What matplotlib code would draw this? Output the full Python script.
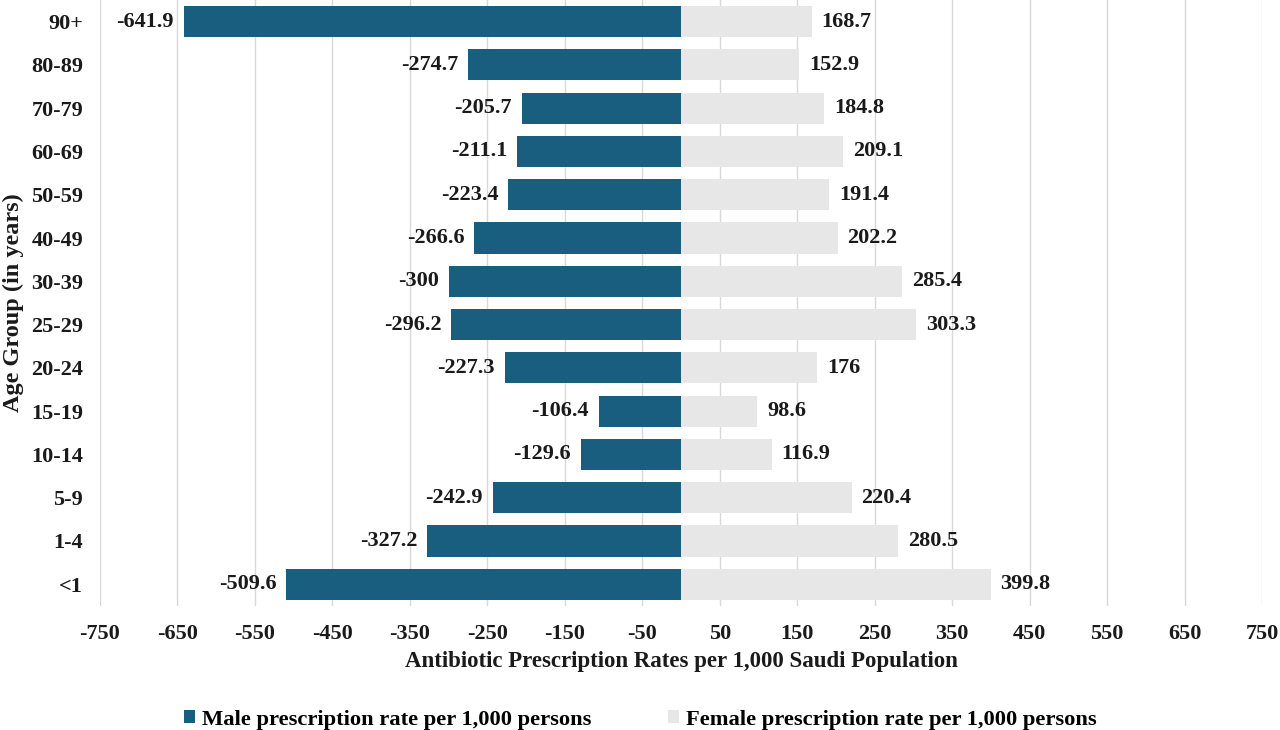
"""Antibiotic prescription rates by age group and sex (pyramid chart)."""

import matplotlib

matplotlib.use("Agg")
import matplotlib.pyplot as plt  # noqa: E402
import numpy as np  # noqa: E402


AGE_GROUPS = ["<1", "1-4", "5-9", "10-14", "15-19", "20-24", "25-29",
              "30-39", "40-49", "50-59", "60-69", "70-79", "80-89", "90+"]
MALE_RATES = [-509.6, -327.2, -242.9, -129.6, -106.4, -227.3, -296.2,
              -300.0, -266.6, -223.4, -211.1, -205.7, -274.7, -641.9]
FEMALE_RATES = [399.8, 280.5, 220.4, 116.9, 98.6, 176.0, 303.3,
                285.4, 202.2, 191.4, 209.1, 184.8, 152.9, 168.7]
X_TICKS = list(range(-750, 751, 100))

MALE_COLOR = "#1a5e7f"
FEMALE_COLOR = "#e7e7e7"
GRID_COLOR = "#d9d9d9"
TEXT_COLOR = "#1a1a1a"

plt.rcParams["font.family"] = ["Liberation Serif", "DejaVu Serif"]
plt.rcParams["font.weight"] = "bold"

figure = plt.figure(figsize=(12.8, 7.3), dpi=100)
axis = figure.add_axes([0.078, 0.170, 0.908, 0.830])

y = np.arange(len(AGE_GROUPS))
male_bars = axis.barh(y, MALE_RATES, height=0.72, color=MALE_COLOR,
                      label="Male prescription rate per 1,000 persons", zorder=2)
female_bars = axis.barh(y, FEMALE_RATES, height=0.72, color=FEMALE_COLOR,
                        label="Female prescription rate per 1,000 persons", zorder=2)

for bars, values in ((male_bars, MALE_RATES), (female_bars, FEMALE_RATES)):
    labels = axis.bar_label(bars, labels=[f"{v:g}" for v in values], padding=7,
                            fontsize=16, fontweight="bold", color=TEXT_COLOR)
    for label in labels:
        label.set_verticalalignment("center")

axis.set_xlim(-750, 750)
axis.set_ylim(-0.5, len(AGE_GROUPS) - 0.5)
axis.set_xticks(X_TICKS)
axis.set_xticklabels([str(t) for t in X_TICKS])
axis.set_yticks(y)
axis.set_yticklabels(AGE_GROUPS)
axis.tick_params(axis="both", length=0, labelsize=16, colors=TEXT_COLOR)
axis.tick_params(axis="x", pad=13)
axis.tick_params(axis="y", pad=12)
axis.xaxis.grid(True, color=GRID_COLOR, linewidth=1.0, zorder=0)
axis.set_axisbelow(True)
for spine in axis.spines.values():
    spine.set_visible(False)

axis.set_xlabel("Antibiotic Prescription Rates per 1,000 Saudi Population",
                fontsize=16.5, fontweight="bold", labelpad=5, color=TEXT_COLOR)
axis.set_ylabel("Age Group (in years)", fontsize=17.5, fontweight="bold",
                labelpad=5, color=TEXT_COLOR)

figure.legend(loc="center", bbox_to_anchor=(0.5, 0.014), ncol=2, frameon=False,
              fontsize=16.2, handlelength=0.5, handleheight=0.5,
              handletextpad=0.3, columnspacing=3.4)

figure.savefig("out.png", dpi=100)
plt.close(figure)
